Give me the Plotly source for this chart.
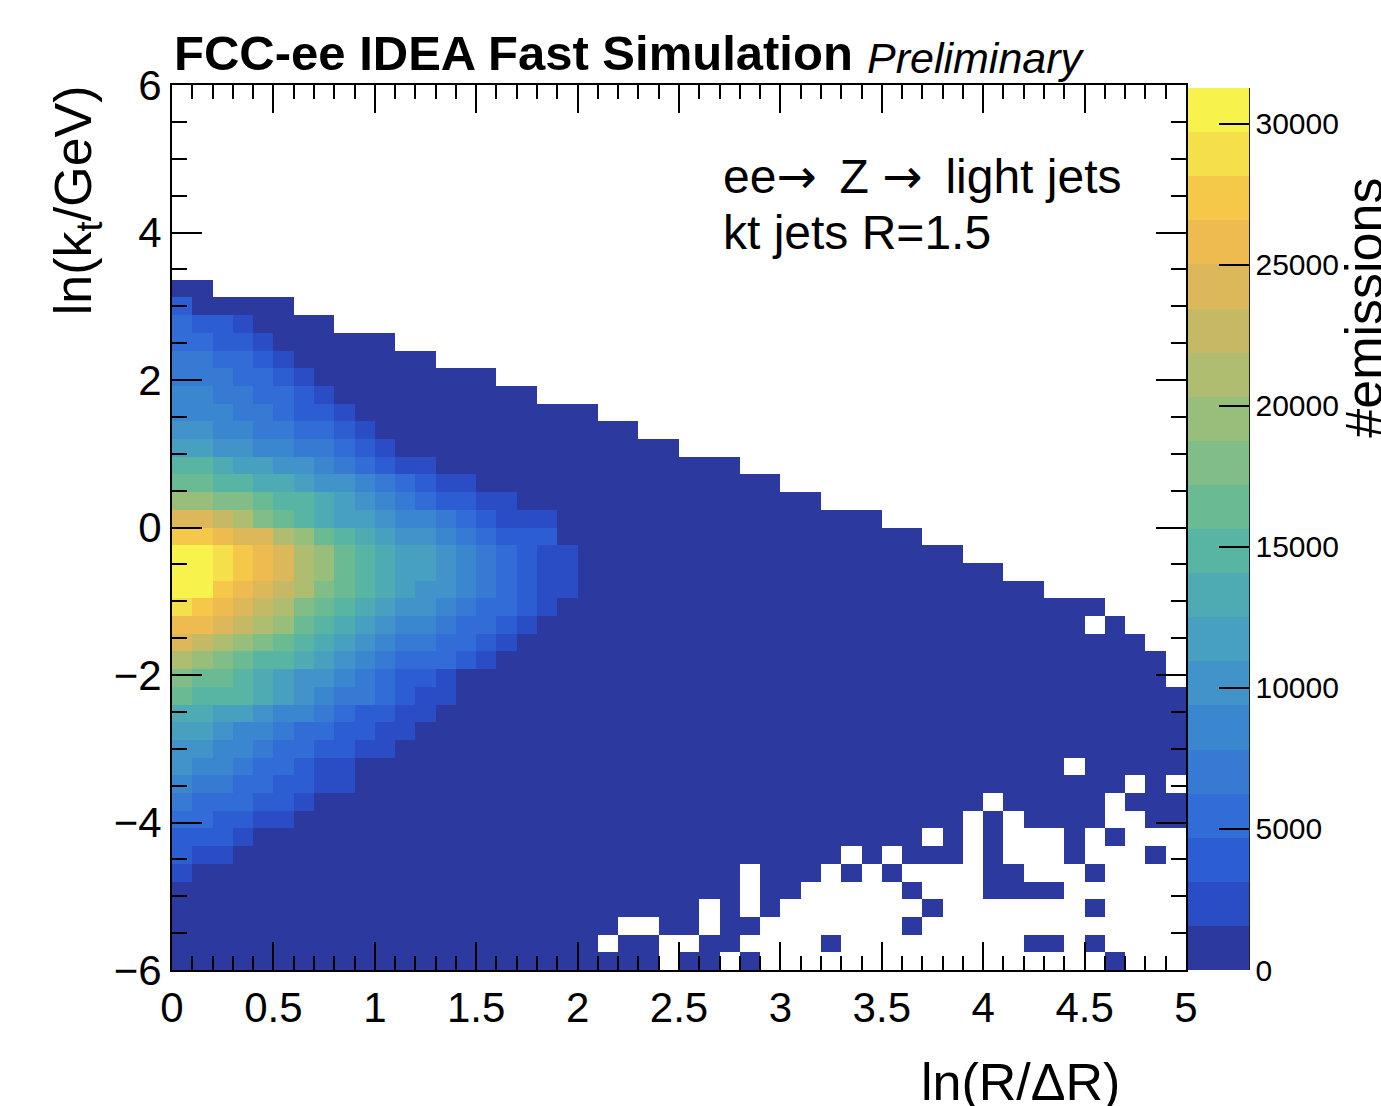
import numpy as np
import plotly.graph_objects as go

# ---------------- data ----------------
# Lund-plane binning: 50 bins in ln(R/dR) from 0 to 5, 50 bins in ln(kt) from 6 to -6
x_bin_edges = np.linspace(0.0, 5.0, 51)
y_bin_edges = np.linspace(6.0, -6.0, 51)

# colour-band width of the (20-contour) z scale
band_width = 1563.0
n_bands = 20
# band index per cell: '.' = empty bin, '1'..'9','a'..'k' = colour band 1..20
band_codes = "123456789abcdefghijk"

# one string per ln(kt) row, from the top (ln kt = 6) down; columns = ln(R/dR) bins
# (grouped by ten columns for readability)
cell_bands = [
    ".......... .......... .......... .......... ..........",
    ".......... .......... .......... .......... ..........",
    ".......... .......... .......... .......... ..........",
    ".......... .......... .......... .......... ..........",
    ".......... .......... .......... .......... ..........",
    ".......... .......... .......... .......... ..........",
    ".......... .......... .......... .......... ..........",
    ".......... .......... .......... .......... ..........",
    ".......... .......... .......... .......... ..........",
    ".......... .......... .......... .......... ..........",
    ".......... .......... .......... .......... ..........",
    "11........ .......... .......... .......... ..........",
    "311111.... .......... .......... .......... ..........",
    "43321111.. .......... .......... .......... ..........",
    "4433211111 1......... .......... .......... ..........",
    "5544321111 111....... .......... .......... ..........",
    "5554432111 111111.... .......... .......... ..........",
    "6655443211 11111111.. .......... .......... ..........",
    "6665543321 1111111111 1......... .......... ..........",
    "7766554432 1111111111 111....... .......... ..........",
    "8877665543 2111111111 11111..... .......... ..........",
    "aa98877654 3221111111 11111111.. .......... ..........",
    "bbaa998776 5432211111 1111111111 .......... ..........",
    "ddccbaa987 6543322111 1111111111 11........ ..........",
    "ggfecba988 7665432221 1111111111 11111..... ..........",
    "iihggedba9 8776543331 1111111111 1111111... ..........",
    "kkjihgedba 9887654322 1111111111 111111111. ..........",
    "kkjihgedba 9887654322 1111111111 1111111111 1.........",
    "kkihgfecba 9877654322 1111111111 1111111111 111.......",
    "jihgfecba9 8776544321 1111111111 1111111111 111111....",
    "hhgfedba98 7665443211 1111111111 1111111111 11111.1...",
    "gfedcba987 6554432111 1111111111 1111111111 11111111..",
    "edcbaa9876 5444321111 1111111111 1111111111 111111111.",
    "cbba987765 4332111111 1111111111 1111111111 111111111.",
    "baaa987655 4322111111 1111111111 1111111111 1111111111",
    "9988766543 3221111111 1111111111 1111111111 1111111111",
    "8876654433 2211111111 1111111111 1111111111 1111111111",
    "7766544332 2111111111 1111111111 1111111111 1111111111",
    "7665443221 1111111111 1111111111 1111111111 1111.11111",
    "6554433221 1111111111 1111111111 1111111111 1111111.1.",
    "5444332111 1111111111 1111111111 1111111111 .11111.111",
    "4433221111 1111111111 1111111111 111111111. 1.1111..11",
    "3332111111 1111111111 1111111111 1111111.1. 1...1.1...",
    "3221111111 1111111111 1111111111 111.1.111. 1...1...1.",
    "2111111111 1111111111 11111111.1 11.1.1.... 11...1....",
    "1111111111 1111111111 11111111.1 1.....1... 1111......",
    "1111111111 1111111111 111111.1.1 .......1.. .....1....",
    "1111111111 1111111111 11..11.11. ......1... ..........",
    "1111111111 1111111111 1.11..11.. ..1....... ..11.1....",
    "1111111111 1111111111 1111.11.1. .......... ......1...",
]

colorbar_ticks = [0, 5000, 10000, 15000, 20000, 25000, 30000]

# ---------------- style ----------------
band_colors = [
    "#2c3a9f", "#2a4dc5", "#2d5dd3", "#316cd7", "#367ad4",
    "#3b87cf", "#4193c9", "#47a0bf", "#4eaab3", "#58b4a3",
    "#6aba94", "#80bd88", "#98be7c", "#aebd70", "#c6b966",
    "#dcb85a", "#eebb50", "#f5c84a", "#f5e04c", "#f7f24c",
]
colorscale = []
for k, c in enumerate(band_colors):
    colorscale.append([k / n_bands, c])
    colorscale.append([(k + 1) / n_bands, c])

FONT = "Liberation Sans, Arial, Helvetica, sans-serif"
ARROW = '<span style="font-family:DejaVu Sans">\u2192</span>'

W, H = 1381, 1106
L, R, T, B = 172, 1188, 85, 970  # plot frame in pixels


def px_x(p):
    return (p - L) / (R - L)


def px_y(p):
    return (B - p) / (B - T)


# ---------------- build z ----------------
x_centers = 0.5 * (x_bin_edges[:-1] + x_bin_edges[1:])
y_centers = 0.5 * (y_bin_edges[:-1] + y_bin_edges[1:])
z = []
for row in cell_bands:
    s = row.replace(" ", "")
    assert len(s) == 50, (row, len(s))
    z.append([None if ch == "." else (band_codes.index(ch) + 0.5) * band_width for ch in s])

zmax = n_bands * band_width

heat = go.Heatmap(
    x=x_centers, y=y_centers, z=z,
    zmin=0, zmax=zmax, colorscale=colorscale,
    hoverongaps=False,
    colorbar=dict(
        x=px_x(1190), xanchor="left", xpad=0,
        y=0, yanchor="bottom", ypad=0,
        len=(B - 88) / (B - T), lenmode="fraction",
        thickness=61, thicknessmode="pixels",
        outlinewidth=0,
        ticks="inside", ticklen=30, tickwidth=2, tickcolor="black",
        tickvals=colorbar_ticks,
        ticktext=[str(v) for v in colorbar_ticks],
        tickfont=dict(family=FONT, size=30, color="black"),
    ),
)

fig = go.Figure(heat)

axis_common = dict(
    showgrid=False, zeroline=False,
    showline=True, linewidth=2, linecolor="black", mirror="allticks",
    ticks="inside", tickwidth=2, tickcolor="black",
    tickfont=dict(family=FONT, size=42, color="black"),
)

fig.update_xaxes(
    range=[0, 5], tick0=0, dtick=0.5, ticklen=28,
    minor=dict(ticks="inside", ticklen=14, dtick=0.1, tick0=0, tickwidth=2,
               tickcolor="black", showgrid=False),
    **axis_common,
)
fig.update_yaxes(
    range=[-6, 6], tick0=-6, dtick=2, ticklen=30,
    minor=dict(ticks="inside", ticklen=15, dtick=0.5, tick0=0, tickwidth=2,
               tickcolor="black", showgrid=False),
    **axis_common,
)

annotations = [
    dict(text="<b>FCC-ee IDEA Fast Simulation</b>", x=px_x(172), y=px_y(53),
         xanchor="left", yanchor="middle", font=dict(family=FONT, size=49, color="black")),
    dict(text="<i>Preliminary</i>", x=px_x(866), y=px_y(58),
         xanchor="left", yanchor="middle", font=dict(family=FONT, size=43, color="black")),
    dict(text="ee" + ARROW + " \u2009Z " + ARROW + " \u2009light jets", x=px_x(722), y=px_y(176),
         xanchor="left", yanchor="middle", font=dict(family=FONT, size=48, color="black")),
    dict(text="kt jets R=1.5", x=px_x(722), y=px_y(232),
         xanchor="left", yanchor="middle", font=dict(family=FONT, size=48, color="black")),
    dict(text="ln(R/\u0394R)", x=px_x(1124), y=px_y(1082),
         xanchor="right", yanchor="middle", font=dict(family=FONT, size=52, color="black")),
    dict(text="ln(k<sub>t</sub>/GeV)", x=px_x(77), y=px_y(200), textangle=-90,
         xanchor="center", yanchor="middle", font=dict(family=FONT, size=52, color="black")),
    dict(text="#emissions", x=px_x(1366), y=px_y(308), textangle=-90,
         xanchor="center", yanchor="middle", font=dict(family=FONT, size=52, color="black")),
]
for a in annotations:
    a.update(xref="paper", yref="paper", showarrow=False)

fig.update_layout(
    width=W, height=H,
    margin=dict(l=L, r=W - R, t=T, b=H - B, pad=0),
    plot_bgcolor="white", paper_bgcolor="white",
    annotations=annotations,
    shapes=[dict(type="line", xref="paper", yref="paper",
                 x0=px_x(1251), x1=px_x(1251), y0=0, y1=px_y(88),
                 line=dict(color="black", width=2))],
)

fig.write_html("out.html")
